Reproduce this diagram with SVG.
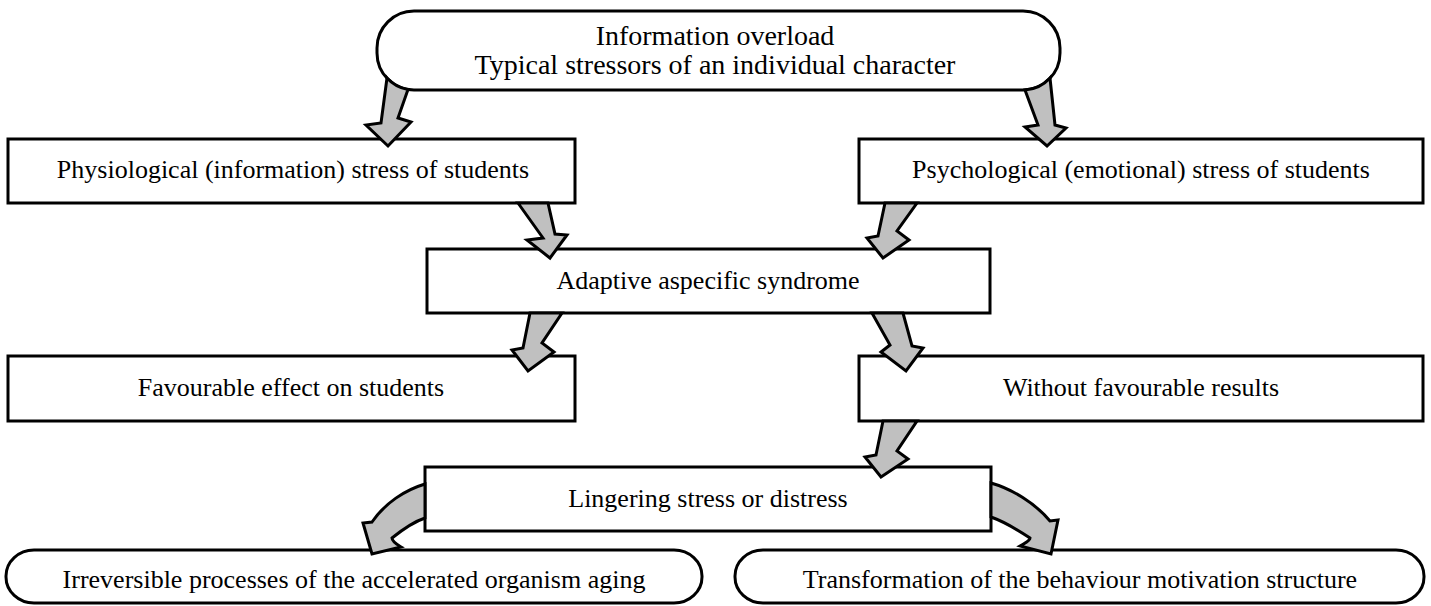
<svg xmlns="http://www.w3.org/2000/svg" width="1431" height="606" viewBox="0 0 1431 606">
<style>
.box{fill:#fff;stroke:#000;stroke-width:3}
.t{font-family:"Liberation Serif","Times New Roman",serif;font-size:26px;fill:#000;text-anchor:middle}
.tt{font-size:28px}
.arr{fill:#c0c0c0;stroke:#000;stroke-width:3;stroke-linejoin:miter}
</style>
<rect width="1431" height="606" fill="#fff"/>
<g id="n-top"><rect class="box" x="377" y="11" width="683" height="79" rx="37" ry="37"/>
<text class="t tt" x="715" y="45">Information overload</text>
<text class="t tt" x="715" y="74">Typical stressors of an individual character</text></g>
<g id="n-physio"><rect class="box" x="8" y="139" width="567" height="64"/>
<text class="t" x="293" y="178">Physiological (information) stress of students</text></g>
<g id="n-psycho"><rect class="box" x="859" y="139" width="564" height="64"/>
<text class="t" x="1141" y="178">Psychological (emotional) stress of students</text></g>
<g id="n-adaptive"><rect class="box" x="427" y="249" width="563" height="64"/>
<text class="t" x="708" y="289">Adaptive aspecific syndrome</text></g>
<g id="n-favourable"><rect class="box" x="8" y="356" width="567" height="65"/>
<text class="t" x="291" y="396">Favourable effect on students</text></g>
<g id="n-without"><rect class="box" x="859" y="356" width="564" height="65"/>
<text class="t" x="1141" y="396">Without favourable results</text></g>
<g id="n-lingering"><rect class="box" x="425" y="467" width="566" height="64"/>
<text class="t" x="708" y="507">Lingering stress or distress</text></g>
<g id="n-aging"><rect class="box" x="6" y="550" width="696" height="53" rx="28" ry="26"/>
<text class="t" x="354" y="588">Irreversible processes of the accelerated organism aging</text></g>
<g id="n-motivation"><rect class="box" x="735" y="550" width="689" height="53" rx="28" ry="26"/>
<text class="t" x="1080" y="588">Transformation of the behaviour motivation structure</text></g>
<g id="connectors">
<path class="arr" d="M387,78 L381,123 L366,125 L388,146 L411,122 L398,118 L408,89.5 A37,37 0 0 1 387,78 Z"/>
<path class="arr" d="M1025,90 L1038,125 L1025,127 L1047,146 L1066,128 L1055,125 L1050,78 A37,37 0 0 1 1025,90 Z"/>
<path class="arr" d="M518,203 L543,238 L527,240 L550,258 L567,235 L555,234 L548,203 Z"/>
<path class="arr" d="M885,203 L878,236 L867,238 L883,258 L909,240 L897,231 L917,203 Z"/>
<path class="arr" d="M530,313 L523,348 L512,350 L528,371 L554,352 L542,343 L562,313 Z"/>
<path class="arr" d="M872,313 L890,345 L881,352 L906,371 L923,348 L912,346 L903,313 Z"/>
<path class="arr" d="M883,421 L876,455 L865,457 L881,477 L908,459 L897,451 L917,421 Z"/>
<path class="arr" d="M425,484 C405,490 385,503 372,522 L363,523 L372,554 L401,547 C396,544 392,541 392,538 C402,530 413,522 425,518 Z"/>
<path class="arr" d="M991,483 C1012,489 1035,503 1050,521 L1058,520 L1051,554 L1020,546 C1025,543 1030,541 1030,538 C1018,530 1005,522 991,517 Z"/>
</g>
</svg>
